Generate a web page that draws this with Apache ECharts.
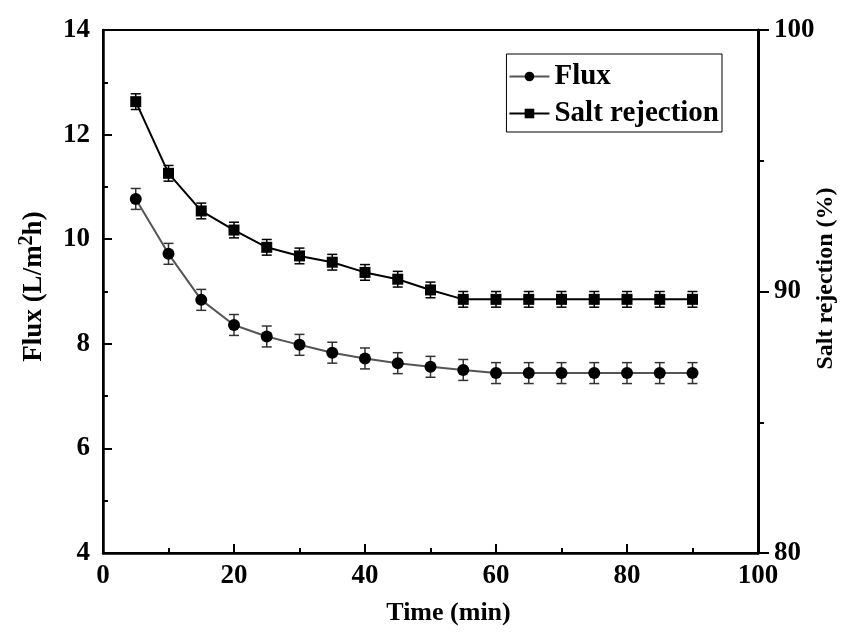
<!DOCTYPE html>
<html><head><meta charset="utf-8">
<script src="https://cdn.jsdelivr.net/npm/echarts@6/dist/echarts.min.js"></script>
<style>html,body{margin:0;padding:0;background:#fff}#c{width:842px;height:632px}</style>
</head><body><div id="c"></div>
<script>
const time = [5,10,15,20,25,30,35,40,45,50,55,60,65,70,75,80,85,90];
const flux = [10.77,9.72,8.84,8.36,8.14,7.98,7.83,7.72,7.63,7.56,7.50,7.44,7.44,7.44,7.44,7.44,7.44,7.44];
const fluxErr = [0.2,0.2,0.2,0.2,0.2,0.2,0.2,0.2,0.2,0.2,0.2,0.2,0.2,0.2,0.2,0.2,0.2,0.2];
const salt = [97.26,94.52,93.08,92.35,91.69,91.36,91.12,90.73,90.47,90.06,89.70,89.70,89.70,89.70,89.70,89.70,89.70,89.70];
const saltErr = [0.3,0.3,0.3,0.3,0.3,0.3,0.3,0.3,0.3,0.3,0.3,0.3,0.3,0.3,0.3,0.3,0.3,0.3];

const FONT = 'Liberation Serif';
const chart = echarts.init(document.getElementById('c'));

function errSeries(vals, errs, yIdx, color){
  return {
    type:'custom', yAxisIndex:yIdx, z:1, silent:true,
    data: time.map((t,i)=>[t, vals[i]-errs[i], vals[i]+errs[i]]),
    renderItem: function(params, api){
      const lo = api.coord([api.value(0), api.value(1)]);
      const hi = api.coord([api.value(0), api.value(2)]);
      const w = 5;
      const st = {stroke:color, lineWidth:1.5};
      return {type:'group', children:[
        {type:'line', shape:{x1:lo[0],y1:lo[1],x2:hi[0],y2:hi[1]}, style:st},
        {type:'line', shape:{x1:lo[0]-w,y1:lo[1],x2:lo[0]+w,y2:lo[1]}, style:st},
        {type:'line', shape:{x1:hi[0]-w,y1:hi[1],x2:hi[0]+w,y2:hi[1]}, style:st}
      ]};
    }
  };
}

chart.setOption({
  animation:false,
  backgroundColor:'#fff',
  grid:{left:103, right:84, top:30, bottom:79, containLabel:false, outerBoundsMode:'none',
        show:true, borderColor:'#000', borderWidth:2},
  legend:{
    right:120, top:54, orient:'vertical', itemGap:8,
    borderColor:'#000', borderWidth:1, borderRadius:0, padding:[8,3,4,2],
    itemWidth:40, itemHeight:12,
    textStyle:{fontFamily:FONT, fontWeight:'bold', fontSize:29, color:'#000'},
    data:['Flux','Salt rejection']
  },
  xAxis:{
    type:'value', min:0, max:100, interval:20,
    name:'Time (min)', nameLocation:'middle', nameGap:47, nameMoveOverlap:false,
    nameTextStyle:{fontFamily:FONT, fontWeight:'bold', fontSize:26, color:'#000', padding:[0,0,0,36]},
    axisLine:{onZero:false, lineStyle:{color:'#000', width:2.5}},
    axisTick:{inside:true, length:9, lineStyle:{color:'#000', width:2}},
    minorTick:{show:true, splitNumber:2, length:5, lineStyle:{color:'#000', width:2}},
    splitLine:{show:false},
    axisLabel:{fontFamily:FONT, fontWeight:'bold', fontSize:27, color:'#000', margin:10}
  },
  yAxis:[{
    type:'value', min:4, max:14, interval:2, position:'left',
    name:'{a|Flux (L/m}{s|2}{a|h)}', nameLocation:'middle', nameGap:52, nameRotate:90, nameMoveOverlap:false,
    nameTextStyle:{padding:[0,0,0,10], rich:{
      a:{fontFamily:FONT, fontWeight:'bold', fontSize:27, color:'#000'},
      s:{fontFamily:FONT, fontWeight:'bold', fontSize:20, color:'#000', padding:[0,0,14,0]}
    }},
    axisLine:{show:true, onZero:false, lineStyle:{color:'#000', width:2.5}},
    axisTick:{inside:true, length:9, lineStyle:{color:'#000', width:2}},
    minorTick:{show:true, splitNumber:2, length:5, lineStyle:{color:'#000', width:2}},
    splitLine:{show:false},
    axisLabel:{fontFamily:FONT, fontWeight:'bold', fontSize:27, color:'#000', margin:13}
  },{
    type:'value', min:80, max:100, interval:10, position:'right',
    name:'Salt rejection (%)', nameLocation:'middle', nameGap:56, nameRotate:90, nameMoveOverlap:false,
    nameTextStyle:{fontFamily:FONT, fontWeight:'bold', fontSize:24, color:'#000', padding:[0,0,0,26]},
    axisLine:{show:true, onZero:false, lineStyle:{color:'#000', width:3}},
    axisTick:{inside:false, length:11, lineStyle:{color:'#000', width:2}},
    minorTick:{show:true, splitNumber:2, length:6, lineStyle:{color:'#000', width:2}},
    splitLine:{show:false},
    axisLabel:{fontFamily:FONT, fontWeight:'bold', fontSize:27, color:'#000', margin:16}
  }],
  series:[
    errSeries(flux, fluxErr, 0, '#333'),
    errSeries(salt, saltErr, 1, '#000'),
    {
      name:'Flux', type:'line', yAxisIndex:0, z:3,
      data: time.map((t,i)=>[t, flux[i]]),
      symbol:'circle', symbolSize:12,
      lineStyle:{color:'#555', width:2},
      itemStyle:{color:'#000'}
    },
    {
      name:'Salt rejection', type:'line', yAxisIndex:1, z:3,
      data: time.map((t,i)=>[t, salt[i]]),
      symbol:'rect', symbolSize:11,
      lineStyle:{color:'#000', width:2},
      itemStyle:{color:'#000'}
    }
  ]
});
</script></body></html>
